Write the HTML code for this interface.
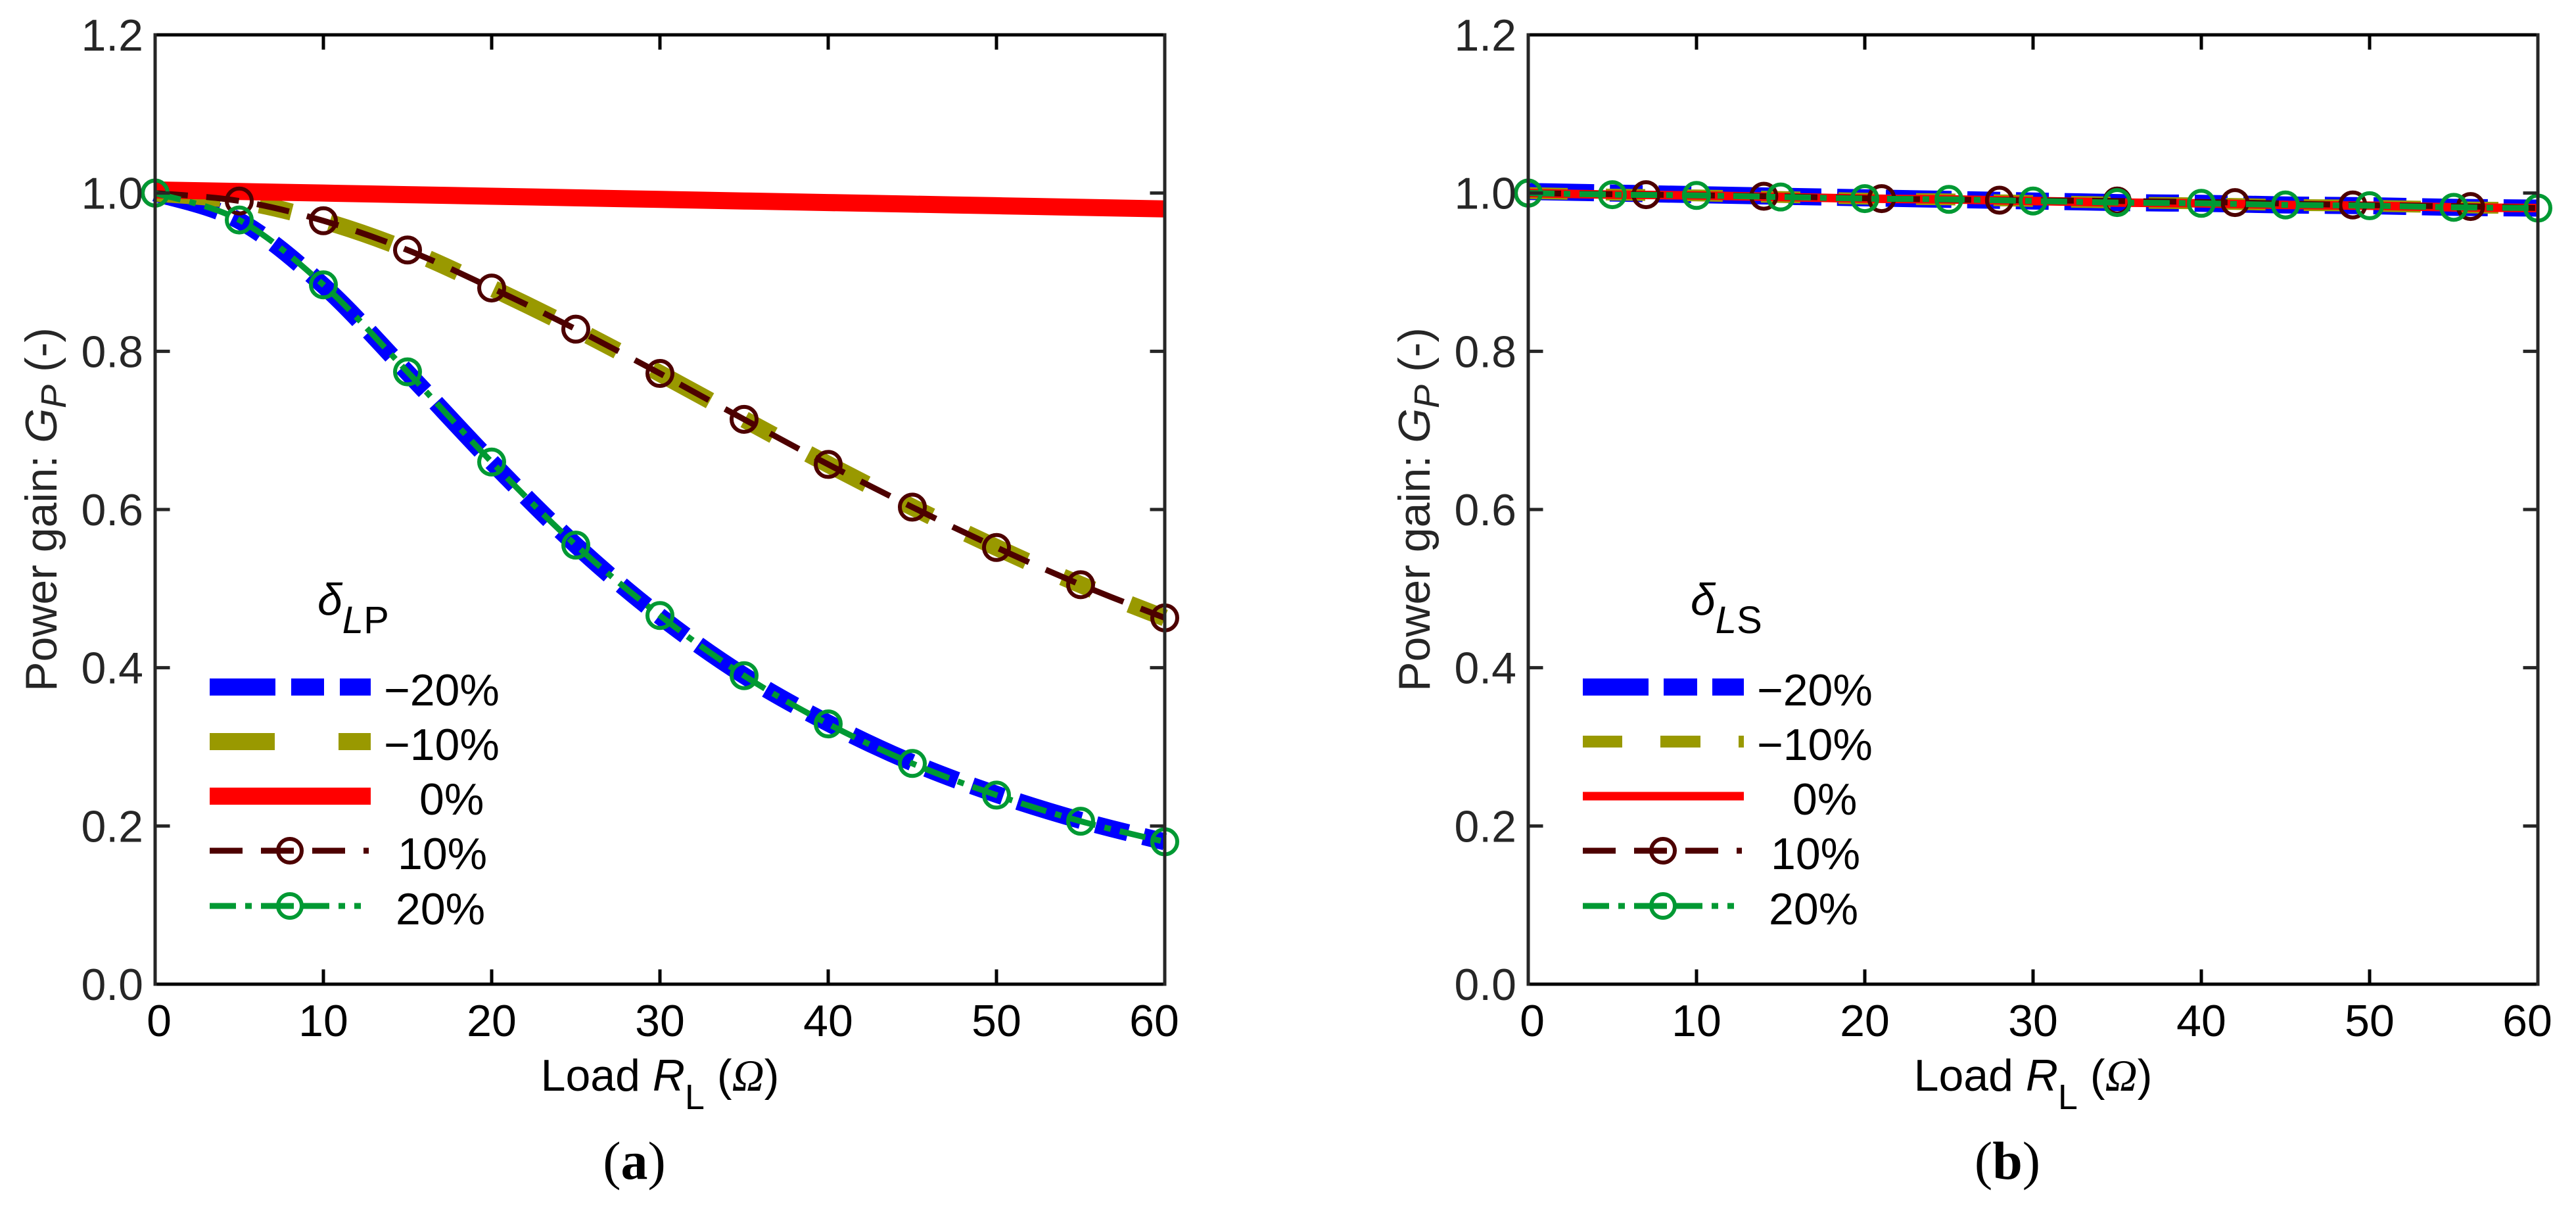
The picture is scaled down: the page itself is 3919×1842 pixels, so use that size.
<!DOCTYPE html>
<html><head><meta charset="utf-8"><style>
html,body{margin:0;padding:0;background:#fff;}
svg{display:block;font-family:"Liberation Sans",Arial,sans-serif;}
</style></head><body>
<svg id="fig" width="3919" height="1842" viewBox="0 0 3919 1842" xmlns="http://www.w3.org/2000/svg"></svg>
<script>
// ---- data ----
const xA = [0,5,10,15,20,25,30,35,40,45,50,55,60];
const lpM20 = [1.0,0.965,0.883,0.773,0.66,0.555,0.465,0.39,0.33,0.28,0.24,0.207,0.18];
const lpM10 = [1.0,0.99,0.965,0.928,0.88,0.828,0.772,0.714,0.657,0.603,0.552,0.505,0.463];
const lp0   = [1.004,1.002,1.0,0.998,0.996,0.994,0.992,0.99,0.988,0.986,0.984,0.982,0.98];
const lpP10 = [1.0,0.99,0.965,0.928,0.88,0.828,0.772,0.714,0.657,0.603,0.552,0.505,0.463];
const lpP20 = [1.0,0.966,0.884,0.774,0.66,0.555,0.466,0.39,0.329,0.279,0.239,0.206,0.18];
const lsM20 = [1.002,1.0,0.998,0.996,0.994,0.992,0.99,0.988,0.987,0.985,0.984,0.982,0.981];
const lsM10 = [1.0,0.998,0.997,0.995,0.993,0.992,0.99,0.988,0.987,0.985,0.984,0.982,0.981];
const ls0   = [1.0,0.998,0.997,0.995,0.993,0.992,0.99,0.988,0.987,0.985,0.984,0.982,0.981];
const xB10 = [0,7,14,21,28,35,42,49,56,60];
const lsP10 = [1.0,0.998,0.996,0.993,0.991,0.99,0.988,0.985,0.983,0.981];
const lsP20 = [1.0,0.998,0.997,0.995,0.993,0.992,0.99,0.988,0.987,0.985,0.984,0.982,0.981];
const xTicks = [0,10,20,30,40,50,60];
const xTickLabels = ["0","10","20","30","40","50","60"];
const yTicks = [0,0.2,0.4,0.6,0.8,1.0,1.2];
const yTickLabels = ["0.0","0.2","0.4","0.6","0.8","1.0","1.2"];
const legendLabels = ["\u221220%","\u221210%","0%","10%","20%"];

const NS="http://www.w3.org/2000/svg";
const svg=document.getElementById('fig');
const FS=68;
function mk(tag,parent){const e=document.createElementNS(NS,tag);parent.appendChild(e);return e;}
function path(pts){
  let d="M"+pts[0][0]+","+pts[0][1];
  for(let i=0;i<pts.length-1;i++){
    const p0=pts[Math.max(0,i-1)],p1=pts[i],p2=pts[i+1],p3=pts[Math.min(pts.length-1,i+2)];
    const c1=[p1[0]+(p2[0]-p0[0])/6,p1[1]+(p2[1]-p0[1])/6];
    const c2=[p2[0]-(p3[0]-p1[0])/6,p2[1]-(p3[1]-p1[1])/6];
    d+=" C"+c1[0]+","+c1[1]+" "+c2[0]+","+c2[1]+" "+p2[0]+","+p2[1];
  }
  return d;
}

function panel(off, key, series, titleSub, letter){
  const X0=236+off, X1=1772+off, Y0=1497, Y1=53;
  const sx=v=>X0+(v/60)*(X1-X0);
  const sy=v=>Y0-(v/1.2)*(Y0-Y1);
  const g=mk('g',svg);
  
  
  series.forEach(s=>{
    const pts=s.x.map((xv,i)=>[sx(xv),sy(s.y[i])]);
    const p=mk('path',g);
    
    
    p.setAttribute('d',path(pts));
    p.setAttribute('fill','none');
    p.setAttribute('stroke',s.color);
    p.setAttribute('stroke-width',s.w);
    if(s.dash)p.setAttribute('stroke-dasharray',s.dash);
    if(s.marker){
      s.x.forEach((xv,i)=>{
        if(s.mx && s.mx.indexOf(xv)<0) return;
        const c=mk('circle',g);
        
        
        c.setAttribute('cx',sx(xv));c.setAttribute('cy',sy(s.y[i]));
        c.setAttribute('r',19);c.setAttribute('fill','none');
        c.setAttribute('stroke',s.color);c.setAttribute('stroke-width',6);
      });
    }
  });
  const ax=mk('g',g);
  
  
  const ln=(x1,y1,x2,y2,c,n)=>{const l=mk('line',ax);l.setAttribute('x1',x1);l.setAttribute('y1',y1);l.setAttribute('x2',x2);l.setAttribute('y2',y2);l.setAttribute('stroke',c);l.setAttribute('stroke-width',5);l.setAttribute('stroke-linecap','square');};
  ln(X0,Y1,X1,Y1,'#000','top-axis');ln(X0,Y0,X1,Y0,'#000','x-axis');
  ln(X0,Y0,X0,Y1,'#262626','y-axis');ln(X1,Y0,X1,Y1,'#262626','right-axis');
  xTicks.forEach((t,i)=>{
    if(i>0&&i<xTicks.length-1){ln(sx(t),Y0,sx(t),Y0-20,'#000','x-tick');ln(sx(t),Y1,sx(t),Y1+20,'#000','x-tick-top');}
    const tx=mk('text',g);
    
    
    tx.setAttribute('x',sx(t)+(i==0?6:0)-(i==6?16:0));tx.setAttribute('y',1576);
    tx.setAttribute('text-anchor','middle');tx.setAttribute('font-size',FS);tx.setAttribute('fill','#000');
    tx.textContent=xTickLabels[i];
  });
  yTicks.forEach((t,i)=>{
    if(i>0&&i<yTicks.length-1){ln(X0,sy(t),X0+20,sy(t),'#262626','y-tick');ln(X1,sy(t),X1-20,sy(t),'#262626','y-tick-right');}
    const tx=mk('text',g);
    
    
    tx.setAttribute('x',X0-18);tx.setAttribute('y',sy(t)+24);
    tx.setAttribute('text-anchor','end');tx.setAttribute('font-size',FS);tx.setAttribute('fill','#262626');
    tx.textContent=yTickLabels[i];
  });
  const yt=mk('text',g);
  
  
  yt.setAttribute('x',off+86);yt.setAttribute('y',775);
  yt.setAttribute('text-anchor','middle');yt.setAttribute('font-size',FS);yt.setAttribute('fill','#262626');
  yt.setAttribute('transform','rotate(-90,'+(off+86)+',775)');
  yt.innerHTML='Power gain: <tspan font-style="italic">G</tspan><tspan font-style="italic" font-size="54" dy="14">P</tspan><tspan dy="-14"> (-)</tspan>';
  const xt=mk('text',g);
  
  
  xt.setAttribute('x',(X0+X1)/2);xt.setAttribute('y',1659);
  xt.setAttribute('text-anchor','middle');xt.setAttribute('font-size',FS);xt.setAttribute('fill','#000');
  xt.innerHTML='Load <tspan font-style="italic">R</tspan><tspan font-size="54" dy="28">L</tspan><tspan dy="-28"> (</tspan><tspan font-family="Liberation Serif,serif" font-style="italic">\u03A9</tspan>)';
  const lt=mk('text',g);
  
  
  lt.setAttribute('x',965+off);lt.setAttribute('y',1793);
  lt.setAttribute('text-anchor','middle');lt.setAttribute('font-size',82);
  lt.setAttribute('font-family','Liberation Serif,serif');lt.setAttribute('fill','#000');
  lt.innerHTML='(<tspan font-weight="bold">'+letter+'</tspan>)';
  const lg=mk('g',g);
  
  
  const tt=mk('text',lg);
  
  
  tt.setAttribute('x',483+off);tt.setAttribute('y',935);tt.setAttribute('font-size',FS);tt.setAttribute('fill','#000');
  tt.innerHTML='<tspan font-style="italic">\u03B4</tspan><tspan font-size="58" dy="28" font-style="italic">L</tspan><tspan font-size="58">'+titleSub+'</tspan>';
  const rows=[1045,1128,1211,1294,1378];
  const tx=[584,584,638,605,602];
  series.forEach((s,i)=>{
    const l=mk('line',lg);
    
    
    l.setAttribute('x1',319+off);l.setAttribute('x2',564+off);l.setAttribute('y1',rows[i]);l.setAttribute('y2',rows[i]);
    l.setAttribute('stroke',s.color);l.setAttribute('stroke-width',s.w);
    if(s.ldash)l.setAttribute('stroke-dasharray',s.ldash);
    if(s.marker){const c=mk('circle',lg);c.setAttribute('cx',441+off);c.setAttribute('cy',rows[i]);c.setAttribute('r',18);c.setAttribute('fill','none');c.setAttribute('stroke',s.color);c.setAttribute('stroke-width',6);}
    const t=mk('text',lg);
    
    
    t.setAttribute('x',tx[i]+off);t.setAttribute('y',rows[i]+28);t.setAttribute('font-size',FS);t.setAttribute('fill','#000');
    t.textContent=legendLabels[i];
  });
}

panel(0,'a',[
  {name:'m20',x:xA,y:lpM20,color:'#0000ff',w:26,dash:'100 24 50 24 50 24',ldash:'100 24 50 24 50'},
  {name:'m10',x:xA,y:lpM10,color:'#999900',w:26,dash:'100 60 50 60',ldash:'99 97 49'},
  {name:'zero',x:xA,y:lp0,color:'#ff0000',w:26},
  {name:'p10',x:xA,y:lpP10,color:'#4d0000',w:9,dash:'50 28',ldash:'50 28 50 28 50 28 8',marker:true},
  {name:'p20',x:xA,y:lpP20,color:'#009933',w:9,dash:'40 14 10 14',ldash:'40 14 10 14 50 14 40 14 10 14 10',marker:true}
],'P','a');
panel(2089,'b',[
  {name:'m20',x:xA,y:lsM20,color:'#0000ff',w:26,dash:'100 24 50 24 50 24',ldash:'100 23 51 23 48'},
  {name:'m10',x:xA,y:lsM10,color:'#999900',w:18,dash:'60 58',ldash:'60 58 61 58 8'},
  {name:'zero',x:xA,y:ls0,color:'#ff0000',w:13},
  {name:'p10',x:xB10,y:lsP10,color:'#4d0000',w:9,dash:'50 28',ldash:'50 28 50 28 50 28 8',marker:true,mx:[0,7,14,21,28,35,42,49,56]},
  {name:'p20',x:xA,y:lsP20,color:'#009933',w:9,dash:'40 14 10 14',ldash:'40 14 10 14 50 14 40 14 10 14 10',marker:true}
],'S','b');
</script>
</body></html>
